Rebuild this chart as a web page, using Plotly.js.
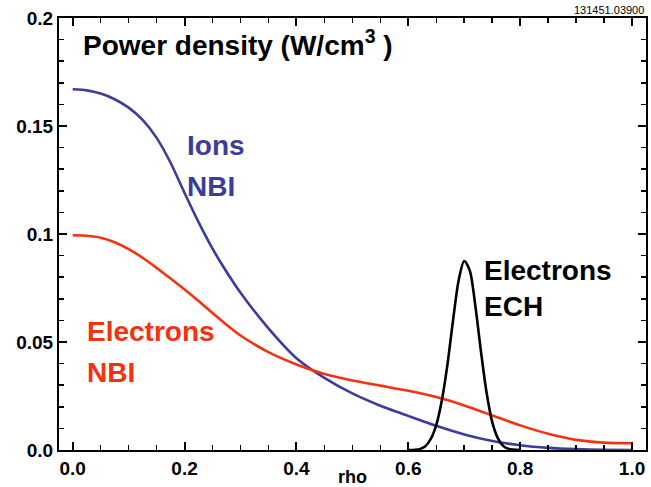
<!DOCTYPE html>
<html>
<head>
<meta charset="utf-8">
<script src="https://cdn.plot.ly/plotly-3.0.1.min.js"></script>
<style>html,body{margin:0;padding:0;background:#fff;}#chart{width:651px;height:487px;}</style>
</head>
<body>
<div id="chart"></div>
<script>
// ---- data ----
const rho = [0, 0.025, 0.05, 0.075, 0.1, 0.125, 0.15, 0.175, 0.2, 0.225, 0.25, 0.275, 0.3, 0.35, 0.4, 0.45, 0.5, 0.55, 0.6, 0.65, 0.7, 0.75, 0.8, 0.85, 0.9, 0.95, 1.0];
const ionsNBI = [0.1670, 0.1665, 0.1650, 0.1624, 0.1585, 0.1528, 0.1445, 0.1330, 0.1190, 0.1055, 0.0932, 0.0825, 0.0728, 0.0563, 0.0425, 0.0334, 0.0262, 0.0205, 0.0158, 0.0112, 0.0072, 0.0042, 0.0022, 0.0010, 0.0004, 0.0001, 0.0];
const electronsNBI = [0.0994, 0.0992, 0.0983, 0.0962, 0.0930, 0.0890, 0.0843, 0.0794, 0.0743, 0.0690, 0.0634, 0.0580, 0.0530, 0.0453, 0.0396, 0.0352, 0.0322, 0.0298, 0.0274, 0.0245, 0.0206, 0.0160, 0.0114, 0.0075, 0.0047, 0.0034, 0.0031];
const rhoECH = [0.60, 0.62, 0.63, 0.64, 0.65, 0.66, 0.67, 0.68, 0.69, 0.70, 0.71, 0.72, 0.73, 0.74, 0.75, 0.76, 0.77, 0.78, 0.80];
const electronsECH = [0, 0.0004, 0.0016, 0.0050, 0.0115, 0.0230, 0.0395, 0.0600, 0.0785, 0.0875, 0.0830, 0.0665, 0.0455, 0.0265, 0.0130, 0.0055, 0.0018, 0.0005, 0];
const xTicks = [0, 0.2, 0.4, 0.6, 0.8, 1.0];
const xTickText = ["0.0", "0.2", "0.4", "0.6", "0.8", "1.0"];
const yTicks = [0, 0.05, 0.1, 0.15, 0.2];
const yTickText = ["0.0", "0.05", "0.1", "0.15", "0.2"];

const BLUE = "#3b3c9c";
const RED = "#f5320f";
const SANS = "Liberation Sans, Arial, Helvetica, sans-serif";

const traces = [
  {x: rho, y: ionsNBI, type: "scatter", mode: "lines", line: {color: BLUE, width: 2.6, shape: "spline", smoothing: 0.6}, hoverinfo: "skip"},
  {x: rho, y: electronsNBI, type: "scatter", mode: "lines", line: {color: RED, width: 2.6, shape: "spline", smoothing: 0.6}, hoverinfo: "skip"},
  {x: rhoECH, y: electronsECH, type: "scatter", mode: "lines", line: {color: "#000", width: 2.6, shape: "spline", smoothing: 0.8}, hoverinfo: "skip"}
];

function ann(text, x, y, color, size, shift) {
  return {text: text, x: x, y: y, xref: "x", yref: "y", xanchor: "left", yanchor: "middle", showarrow: false,
          xshift: shift, font: {family: SANS, size: size, color: color, weight: "bold"}};
}

const layout = {
  width: 651, height: 487,
  margin: {l: 59, r: 5, t: 18, b: 37, pad: 0},
  paper_bgcolor: "#fff", plot_bgcolor: "#fff",
  showlegend: false,
  xaxis: {
    range: [-0.0245, 1.025], tickvals: xTicks, ticktext: xTickText,
    ticks: "inside", ticklen: 8, tickwidth: 2, tickcolor: "#000",
    showline: true, linewidth: 2, linecolor: "#000", mirror: "allticks",
    showgrid: false, zeroline: false,
    tickfont: {family: SANS, size: 19, color: "#000", weight: "bold"},
    minor: {dtick: 0.05, ticks: "inside", ticklen: 5, tickwidth: 1.5, tickcolor: "#000", showgrid: false},
    title: {text: "rho", font: {family: SANS, size: 18, color: "#000", weight: "bold"}, standoff: 2}
  },
  yaxis: {
    range: [0, 0.2], tickvals: yTicks, ticktext: yTickText,
    ticks: "inside", ticklen: 8, tickwidth: 2, tickcolor: "#000",
    showline: true, linewidth: 2, linecolor: "#000", mirror: "allticks",
    showgrid: false, zeroline: false,
    tickfont: {family: SANS, size: 19, color: "#000", weight: "bold"},
    minor: {dtick: 0.01, ticks: "inside", ticklen: 5, tickwidth: 1.5, tickcolor: "#000", showgrid: false}
  },
  annotations: [
    ann("Power density (W/cm<sup>3</sup> )", 0.019, 0.1885, "#000", 28, -2),
    ann("Ions", 0.2057, 0.1408, BLUE, 28, -3),
    ann("NBI", 0.2057, 0.1219, BLUE, 28, -3),
    ann("Electrons", 0.0279, 0.0547, RED, 28, -3),
    ann("NBI", 0.0279, 0.0361, RED, 28, -3),
    ann("Electrons", 0.7376, 0.0831, "#000", 28, -3),
    ann("ECH", 0.7376, 0.0663, "#000", 28, -3),
    {text: "131451.03900", xref: "paper", yref: "paper", x: 1.0, y: 1.0, xanchor: "right", yanchor: "bottom", showarrow: false,
     font: {family: SANS, size: 11, color: "#000"}}
  ]
};

Plotly.newPlot("chart", traces, layout, {staticPlot: true, displayModeBar: false});
</script>
</body>
</html>
